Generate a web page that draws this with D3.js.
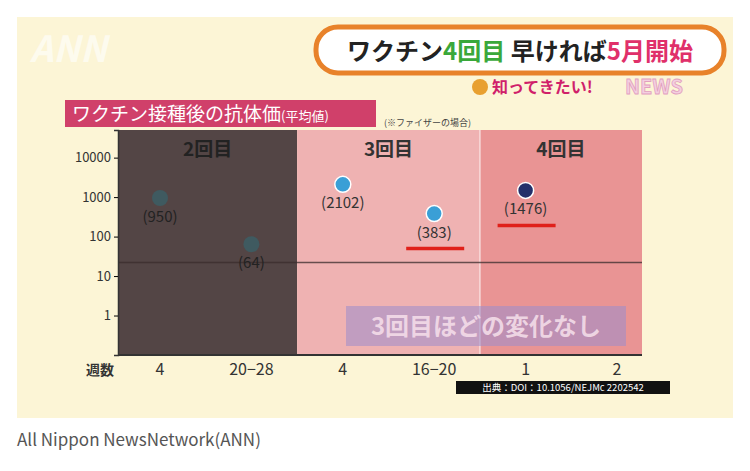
<!DOCTYPE html>
<html><head><meta charset="utf-8">
<script src="https://cdn.jsdelivr.net/npm/d3@7.9.0/dist/d3.min.js"></script>
<style>body{margin:0;background:#fff}text{font-family:"Noto Sans CJK JP",sans-serif}</style>
</head><body><svg id="c" width="750" height="471"></svg>
<script>
// data
const weeks = ['4', '20−28', '4', '16−20', '1', '2'];
const doses = ['2回目', '3回目', '4回目'];
const titers = [950, 64, 2102, 383, 1476, null];
const labels = ['(950)', '(64)', '(2102)', '(383)', '(1476)', null];
const dotColors = ['#3f5a60', '#3f5a60', '#3a9fd6', '#3a9fd6', '#24306a', null];
const underlined = [false, false, false, true, true, false];
const yTicks = [1, 10, 100, 1000, 10000];
const threshold = 22;

const svg = d3.select('#c');
const plot = { left: 118, right: 642, top: 130, bottom: 355 };

// backdrop
svg.append('rect').attr('x', 17).attr('y', 17).attr('width', 716).attr('height', 401).attr('fill', '#fcf5d6');
svg.append('text').attr('x', 17).attr('y', 446).attr('font-size', 17).attr('fill', '#555')
  .attr('font-family', 'Liberation Sans, sans-serif').text('All Nippon NewsNetwork(ANN)');
svg.append('text').attr('x', 30).attr('y', 62).attr('font-size', 36).attr('font-weight', 'bold')
  .attr('fill', '#fff').attr('opacity', 0.6).attr('font-style', 'italic').text('ANN');

// headline box
svg.append('rect').attr('x', 316).attr('y', 27).attr('width', 408).attr('height', 46).attr('rx', 22)
  .attr('fill', '#fff').attr('stroke', '#e8822a').attr('stroke-width', 5);
const head = svg.append('text').attr('x', 520).attr('y', 60).attr('text-anchor', 'middle')
  .attr('font-size', 24).attr('font-weight', 'bold').attr('fill', '#222');
head.append('tspan').text('ワクチン');
head.append('tspan').attr('fill', '#3aa83a').text('4回目');
head.append('tspan').text(' 早ければ');
head.append('tspan').attr('fill', '#e0306a').text('5月開始');
svg.append('circle').attr('cx', 480).attr('cy', 87).attr('r', 8).attr('fill', '#e8a030');
svg.append('text').attr('x', 492).attr('y', 93).attr('font-size', 16).attr('font-weight', 'bold')
  .attr('fill', '#d0206a').text('知ってきたい!');
svg.append('text').attr('x', 625).attr('y', 94).attr('font-size', 20).attr('font-weight', 'bold')
  .attr('fill', '#f4cfe0').attr('stroke', '#e2a0c0').attr('stroke-width', 0.8).text('NEWS');

// subtitle
svg.append('rect').attr('x', 65).attr('y', 100).attr('width', 311).attr('height', 27).attr('fill', '#d0406a');
const sub = svg.append('text').attr('x', 72).attr('y', 121).attr('font-size', 19).attr('fill', '#fff');
sub.append('tspan').text('ワクチン接種後の抗体価');
sub.append('tspan').attr('font-size', 13).text('(平均値)');
svg.append('text').attr('x', 384).attr('y', 126).attr('font-size', 9).attr('fill', '#444').text('(※ファイザーの場合)');

// scales
const x = d3.scalePoint().domain(d3.range(weeks.length)).range([160, 617]);
const y = d3.scaleLog().domain([0.1, 10 ** 4.7]).range([plot.bottom, plot.top]);

// dose regions
const bounds = [plot.left, (x(1) + x(2)) / 2, (x(3) + x(4)) / 2, plot.right];
const regionFill = ['#534545', '#efb2b2', '#e99494'];
const regionText = ['#222', '#333', '#333'];
doses.forEach((d, i) => {
  svg.append('rect').attr('x', bounds[i]).attr('y', plot.top).attr('width', bounds[i + 1] - bounds[i])
    .attr('height', plot.bottom - plot.top).attr('fill', regionFill[i]);
  svg.append('text').attr('x', (bounds[i] + bounds[i + 1]) / 2).attr('y', 156).attr('text-anchor', 'middle')
    .attr('font-size', 19).attr('font-weight', 'bold').attr('fill', regionText[i]).text(d);
});
svg.append('line').attr('x1', bounds[2]).attr('x2', bounds[2]).attr('y1', plot.top).attr('y2', plot.bottom)
  .attr('stroke', '#f8dada').attr('stroke-width', 1.5);

// threshold line
svg.append('line').attr('x1', plot.left).attr('x2', plot.right).attr('y1', y(threshold)).attr('y2', y(threshold))
  .attr('stroke', '#3a2c2c').attr('stroke-width', 1.4).attr('opacity', 0.75);

// axes
const yAxis = svg.append('g').attr('transform', `translate(${plot.left},0)`)
  .call(d3.axisLeft(y).tickValues(yTicks).tickFormat(d3.format('d')).tickSize(4));
yAxis.select('.domain').attr('stroke', '#333').attr('stroke-width', 1.5);
yAxis.selectAll('text').attr('font-size', 13).attr('fill', '#333').attr('font-family', 'Liberation Sans, sans-serif');
svg.append('line').attr('x1', plot.left).attr('x2', plot.right).attr('y1', plot.bottom).attr('y2', plot.bottom)
  .attr('stroke', '#333').attr('stroke-width', 2);
svg.selectAll('.wk').data(weeks).join('text').attr('class', 'wk')
  .attr('x', (d, i) => x(i)).attr('y', 375).attr('text-anchor', 'middle')
  .attr('font-size', 16).attr('fill', '#333').text(d => d);
svg.append('text').attr('x', 100).attr('y', 375).attr('text-anchor', 'middle').attr('font-size', 14)
  .attr('font-weight', 'bold').attr('fill', '#333').text('週数');

// points
const pts = titers.map((v, i) => ({ v, i })).filter(d => d.v != null);
svg.selectAll('.dot').data(pts).join('circle').attr('class', 'dot')
  .attr('cx', d => x(d.i)).attr('cy', d => y(d.v)).attr('r', 8)
  .attr('fill', d => dotColors[d.i])
  .attr('stroke', d => d.i < 2 ? 'none' : '#fff').attr('stroke-width', 1.5);
svg.selectAll('.lbl').data(pts).join('text').attr('class', 'lbl')
  .attr('x', d => x(d.i)).attr('y', d => y(d.v) + 24).attr('text-anchor', 'middle')
  .attr('font-size', 15).attr('fill', d => d.i < 2 ? '#222' : '#333').text(d => labels[d.i]);
svg.selectAll('.ul').data(pts.filter(d => underlined[d.i])).join('line').attr('class', 'ul')
  .attr('x1', d => x(d.i) - 28).attr('x2', d => x(d.i) + 30)
  .attr('y1', d => y(d.v) + 35).attr('y2', d => y(d.v) + 35)
  .attr('stroke', '#e0201a').attr('stroke-width', 3.5);

// annotation
svg.append('rect').attr('x', 346).attr('y', 306).attr('width', 280).attr('height', 40)
  .attr('fill', '#9b8ccc').attr('opacity', 0.55);
svg.append('text').attr('x', 486).attr('y', 335).attr('text-anchor', 'middle').attr('font-size', 24)
  .attr('font-weight', 'bold').attr('fill', '#f3dce8').attr('opacity', 0.9).text('3回目ほどの変化なし');

// source
svg.append('rect').attr('x', 456).attr('y', 381).attr('width', 214).attr('height', 13).attr('fill', '#111');
svg.append('text').attr('x', 563).attr('y', 391).attr('text-anchor', 'middle').attr('font-size', 9.5)
  .attr('fill', '#fff').text('出典：DOI：10.1056/NEJMc 2202542');
</script></body></html>
